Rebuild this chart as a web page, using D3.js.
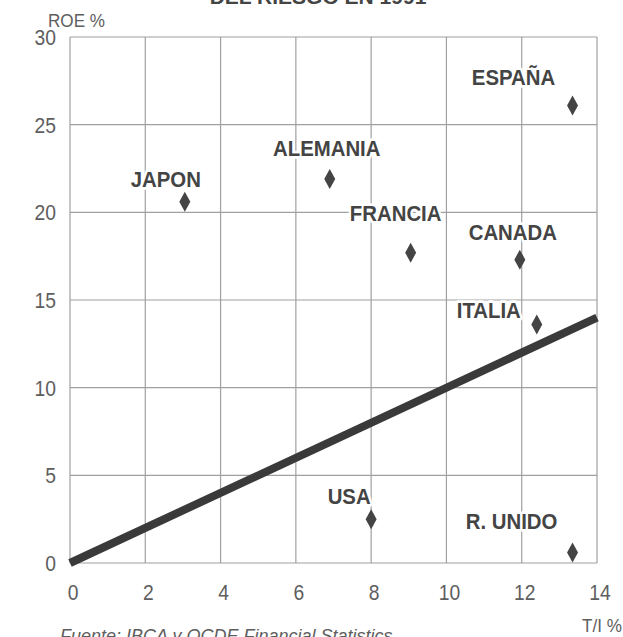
<!DOCTYPE html>
<html><head><meta charset="utf-8">
<script src="https://cdn.jsdelivr.net/npm/d3@7"></script>
<style>
html,body{margin:0;padding:0;background:#fff;}
svg{display:block;}
</style>
</head><body>
<div id="chart"></div>
<script>
// ---- data ----
const countries = ["JAPON","ALEMANIA","FRANCIA","ESPAÑA","CANADA","ITALIA","USA","R. UNIDO"];
const tiValues  = [3.05, 6.9, 9.05, 13.35, 11.95, 12.4, 8.0, 13.35];
const roeValues = [20.6, 21.9, 17.7, 26.1, 17.3, 13.6, 2.5, 0.6];
const xTicks = [0,2,4,6,8,10,12,14];
const yTicks = [0,5,10,15,20,25,30];
const trendLine = [[0,0],[14,14]];
const titleText = "DEL RIESGO EN 1991";
const yAxisTitle = "ROE %";
const xAxisTitle = "T/I %";
const sourceText = "Fuente: IBCA y OCDE Financial Statistics";

// label placement (pixel offsets from the marker, layout only)
const labelOffsets = [[-19,-15],[-3,-23],[-15,-32],[-59,-20],[-7,-20],[-48,-7],[-22,-15],[-61,-23]];

const W = 623, H = 637;
const m = {left:70, right:26, top:37, bottom:74};
const svg = d3.select("#chart").append("svg").attr("width",W).attr("height",H);

const x = d3.scaleLinear().domain([0,14]).range([m.left, W-m.right]);
const y = d3.scaleLinear().domain([0,30]).range([H-m.bottom, m.top]);

const ink = "#444";
const grid = "#a0a0a0";
const tickCol = "#5e5e5e";
const font = "Liberation Sans, Arial, sans-serif";

// title (cut off at top, as in the source scan)
svg.append("text").attr("x",318).attr("y",4).attr("text-anchor","middle")
  .attr("font-family",font).attr("font-weight","bold")
  .attr("font-size",21).attr("fill",ink).text(titleText);

// grid
const g = svg.append("g");
g.selectAll("line.v").data(xTicks).join("line")
  .attr("x1",d=>x(d)).attr("x2",d=>x(d)).attr("y1",y(0)).attr("y2",y(30))
  .attr("stroke",grid).attr("stroke-width",1.2);
g.selectAll("line.h").data(yTicks).join("line")
  .attr("y1",d=>y(d)).attr("y2",d=>y(d)).attr("x1",x(0)).attr("x2",x(14))
  .attr("stroke",grid).attr("stroke-width",1.2);

// tick labels (slightly condensed)
svg.append("g").selectAll("text").data(xTicks).join("text")
  .attr("transform",d=>`translate(${x(d)+3},${y(0)+37}) scale(0.92,1.05)`)
  .attr("text-anchor","middle")
  .attr("font-family",font).attr("font-size",21).attr("fill",tickCol)
  .text(d=>d);
svg.append("g").selectAll("text").data(yTicks).join("text")
  .attr("transform",d=>`translate(${x(0)-14},${y(d)+8}) scale(0.92,1.05)`)
  .attr("text-anchor","end")
  .attr("font-family",font).attr("font-size",21).attr("fill",tickCol)
  .text(d=>d);

svg.append("text").attr("transform","translate(48,27) scale(0.95,1.05)").attr("font-family",font)
  .attr("font-size",18).attr("fill",tickCol).text(yAxisTitle);
svg.append("text").attr("transform","translate(622,632) scale(0.95,1.05)").attr("text-anchor","end").attr("font-family",font)
  .attr("font-size",18).attr("fill",tickCol).text(xAxisTitle);
svg.append("text").attr("x",60).attr("y",642).attr("font-family",font)
  .attr("font-style","italic").attr("font-size",18).attr("fill",tickCol).text(sourceText);

// trend line
const line = d3.line().x(d=>x(d[0])).y(d=>y(d[1]));
svg.append("path").attr("d",line(trendLine)).attr("fill","none")
  .attr("stroke","#3a3a3a").attr("stroke-width",8).attr("stroke-linecap","butt");

// points
const pts = countries.map((c,i)=>({c, tx:tiValues[i], roe:roeValues[i], off:labelOffsets[i]}));
const diamond = "M0,-10L5.5,0L0,10L-5.5,0Z";
svg.append("g").selectAll("path").data(pts).join("path")
  .attr("d",diamond).attr("transform",d=>`translate(${x(d.tx)},${y(d.roe)})`)
  .attr("fill",ink);

// labels with white halo
svg.append("g").selectAll("text").data(pts).join("text")
  .attr("transform",d=>`translate(${x(d.tx)+d.off[0]},${y(d.roe)+d.off[1]}) scale(0.97,1.08)`)
  .attr("text-anchor","middle")
  .attr("font-family",font).attr("font-weight","bold")
  .attr("font-size",21).attr("fill",ink)
  .attr("stroke","#fff").attr("stroke-width",5).attr("paint-order","stroke")
  .attr("stroke-linejoin","round")
  .text(d=>d.c);
</script>
</body></html>
